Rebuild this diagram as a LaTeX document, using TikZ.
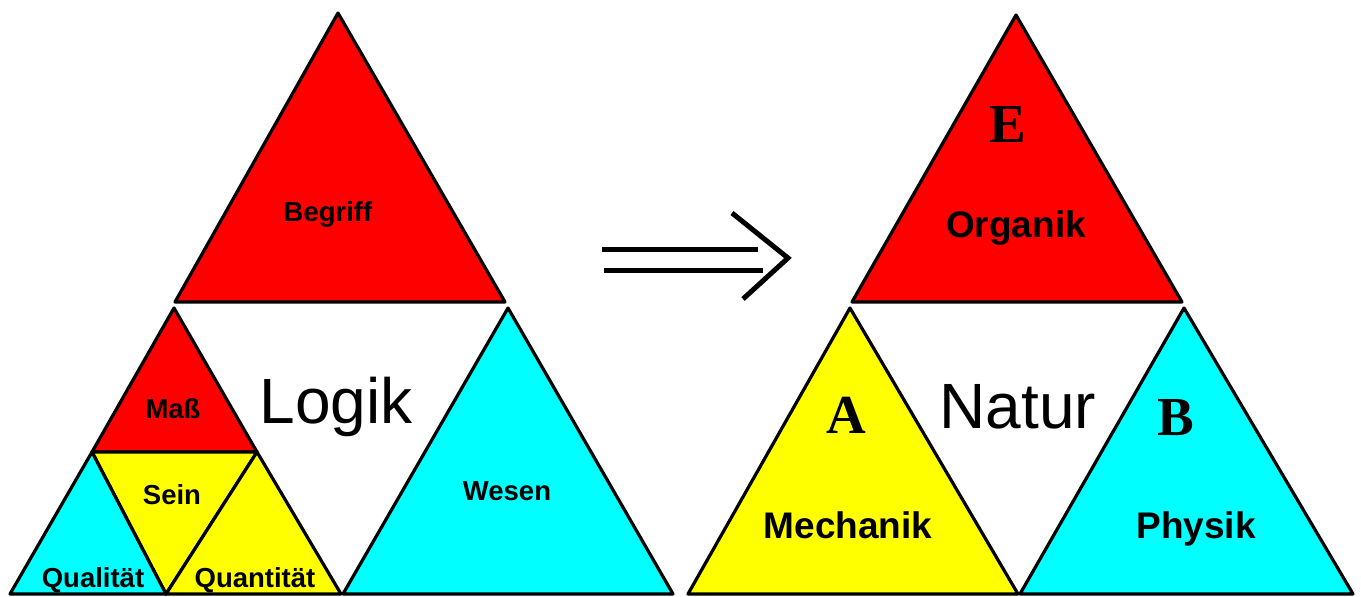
\documentclass[tikz,border=0pt]{standalone}
\usepackage{fontspec}
\setmainfont{Liberation Sans}
\newfontfamily\timesf{Liberation Serif}
\definecolor{hred}{RGB}{255,0,0}
\definecolor{hyellow}{RGB}{255,255,0}
\definecolor{hcyan}{RGB}{0,255,255}
\begin{document}
\begin{tikzpicture}[x=1pt,y=-1pt,
  tri/.style={draw=black,line width=3.2pt,line join=round},
  smalllbl/.style={anchor=base,inner sep=0pt,font=\fontsize{27.5}{30}\selectfont\bfseries},
  midlbl/.style={anchor=base,inner sep=0pt,font=\fontsize{37}{40}\selectfont\bfseries},
  biglbl/.style={anchor=base,inner sep=0pt,font=\fontsize{64}{70}\selectfont},
  letterlbl/.style={anchor=base,inner sep=0pt,font=\fontsize{55}{60}\selectfont\timesf\bfseries},
  arrowline/.style={line width=5pt}]
\useasboundingbox (0,0) rectangle (1361,597);
\fill[white] (0,0) rectangle (1361,597);
% ---- left figure coordinates
\coordinate (bA) at (338,13);
\coordinate (bL) at (175,302);
\coordinate (bR) at (505,302);
\coordinate (sA) at (174,308);
\coordinate (sL) at (92,452);
\coordinate (sR) at (257,452);
\coordinate (qBL) at (10,594);
\coordinate (qBM) at (166,594);
\coordinate (qBR) at (341,594);
\coordinate (wA) at (508,308);
\coordinate (wL) at (343,594);
\coordinate (wR) at (673,594);
% ---- right figure coordinates
\coordinate (oA) at (1016,15);
\coordinate (oL) at (852,302);
\coordinate (oR) at (1182,302);
\coordinate (mA) at (850,308);
\coordinate (mL) at (688,594);
\coordinate (mR) at (1018,594);
\coordinate (pA) at (1184,308);
\coordinate (pL) at (1020,594);
\coordinate (pR) at (1353,594);
% ---- left triangles
\filldraw[tri,fill=hred] (bA) -- (bL) -- (bR) -- cycle;
\filldraw[tri,fill=hred] (sA) -- (sL) -- (sR) -- cycle;
\filldraw[tri,fill=hyellow] (sL) -- (sR) -- (qBM) -- cycle;
\filldraw[tri,fill=hcyan] (sL) -- (qBL) -- (qBM) -- cycle;
\filldraw[tri,fill=hyellow] (sR) -- (qBM) -- (qBR) -- cycle;
\filldraw[tri,fill=hcyan] (wA) -- (wL) -- (wR) -- cycle;
% ---- right triangles
\filldraw[tri,fill=hred] (oA) -- (oL) -- (oR) -- cycle;
\filldraw[tri,fill=hyellow] (mA) -- (mL) -- (mR) -- cycle;
\filldraw[tri,fill=hcyan] (pA) -- (pL) -- (pR) -- cycle;
% ---- arrow
\coordinate (a1s) at (602,249);
\coordinate (a1e) at (758,249);
\coordinate (a2s) at (604,270);
\coordinate (a2e) at (763,270);
\coordinate (hU) at (732,213);
\coordinate (hT) at (788,258);
\coordinate (hD) at (743,299);
\draw[arrowline] (a1s) -- (a1e);
\draw[arrowline] (a2s) -- (a2e);
\draw[arrowline,line join=miter] (hU) -- (hT) -- (hD);
% ---- labels left
\node[smalllbl] (begriff) at (328,221) {Begriff};
\node[biglbl] (logik) at (336,423) {Logik};
\node[smalllbl] (mass) at (173,418) {Maß};
\node[smalllbl] (sein) at (172,504) {Sein};
\node[smalllbl] (qual) at (93,587) {Qualität};
\node[smalllbl] (quant) at (255,587) {Quantität};
\node[smalllbl] (wesen) at (507,500) {Wesen};
% ---- labels right
\node[letterlbl] (E) at (1008,142) {E};
\node[midlbl] (organik) at (1016,237) {Organik};
\node[biglbl] (natur) at (1018,428) {Natur};
\node[letterlbl] (A) at (846,433) {A};
\node[midlbl] (mech) at (848,538) {Mechanik};
\node[letterlbl] (B) at (1176,435) {B};
\node[midlbl] (phys) at (1196,538) {Physik};
\end{tikzpicture}
\end{document}
